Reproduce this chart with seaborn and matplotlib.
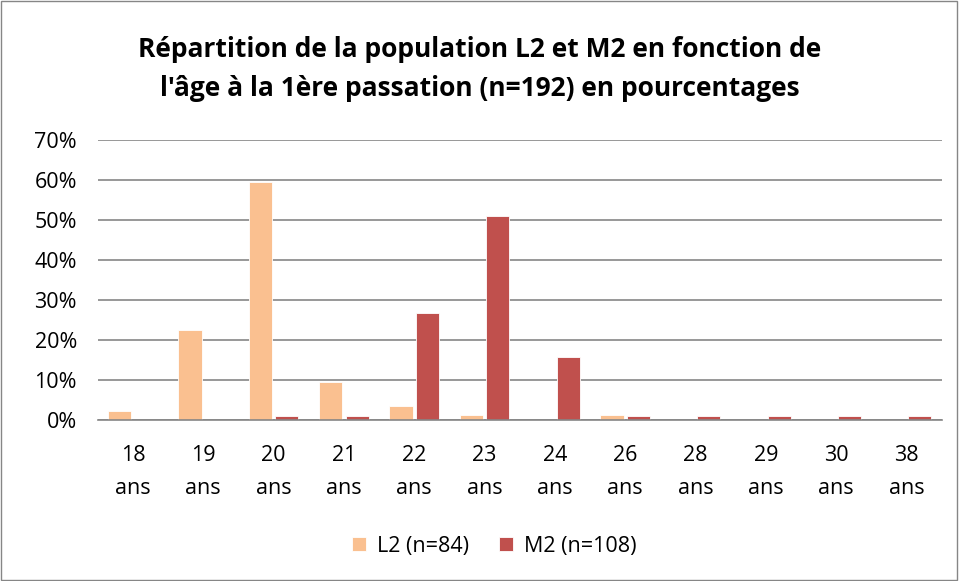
import pandas as pd
import numpy as np
import matplotlib.pyplot as plt
import seaborn as sns
from matplotlib.patches import Rectangle

# ages a la 1ere passation
ages = ['18', '19', '20', '21', '22', '23', '24', '26', '28', '29', '30', '38']
# effectifs (L2 n=84, M2 n=108)
l2_counts = [2, 19, 50, 8, 3, 1, 0, 1, 0, 0, 0, 0]
m2_counts = [0, 0, 1, 1, 29, 55, 17, 1, 1, 1, 1, 1]
series = ['L2 (n=84)', 'M2 (n=108)']
colors = ['#FAC090', '#C0504D']

l2_pct = [c / 84 for c in l2_counts]
m2_pct = [c / 108 for c in m2_counts]

df = pd.DataFrame({
    'age': [a + '\nans' for a in ages] * 2,
    'pct': l2_pct + m2_pct,
    'groupe': [series[0]] * len(ages) + [series[1]] * len(ages),
})

sns.set_style('white')
plt.rcParams['font.family'] = ['Open Sans', 'DejaVu Sans']
plt.rcParams['text.color'] = 'black'

fig = plt.figure(figsize=(9.59, 5.81), dpi=100)
ax = fig.add_axes([0.102, 0.277, 0.880, 0.482])

sns.barplot(data=df, x='age', y='pct', hue='groupe', palette=colors, saturation=1,
            width=0.755, gap=0.13, ax=ax, edgecolor='white', linewidth=0.6)

ax.set_ylim(0, 0.7)
ax.set_yticks(np.arange(0, 0.71, 0.1))
ax.set_yticklabels([f'{int(round(v * 100))}%' for v in np.arange(0, 0.71, 0.1)])
ax.yaxis.grid(True, color='#868686', linewidth=1.2)
ax.set_axisbelow(True)
for s in ['left', 'right', 'top']:
    ax.spines[s].set_visible(False)
ax.spines['bottom'].set_color('#868686')
ax.spines['bottom'].set_linewidth(1.2)
ax.set_xlabel('')
ax.set_ylabel('')
ax.tick_params(axis='both', length=0, labelsize=15.5, colors='black')
ax.tick_params(axis='x', pad=18)
ax.tick_params(axis='y', pad=15)
for lab in ax.get_xticklabels():
    lab.set_linespacing(1.75)

ax.legend(loc='center', bbox_to_anchor=(0.47, -0.45), ncol=2, frameon=False,
          fontsize=15.5, handlelength=0.65, handleheight=0.65, columnspacing=1.4,
          handletextpad=0.5)

fig.suptitle("Répartition de la population L2 et M2 en fonction de\nl'âge à la 1ère passation (n=192) en pourcentages",
             y=0.938, fontsize=19, fontweight='bold', linespacing=1.55, color='black')

# cadre du graphique
fig.patches.append(Rectangle((0.001, 0.002), 0.997, 0.996, transform=fig.transFigure,
                             fill=False, edgecolor='#868686', linewidth=1))

fig.savefig('out.png', dpi=100)
